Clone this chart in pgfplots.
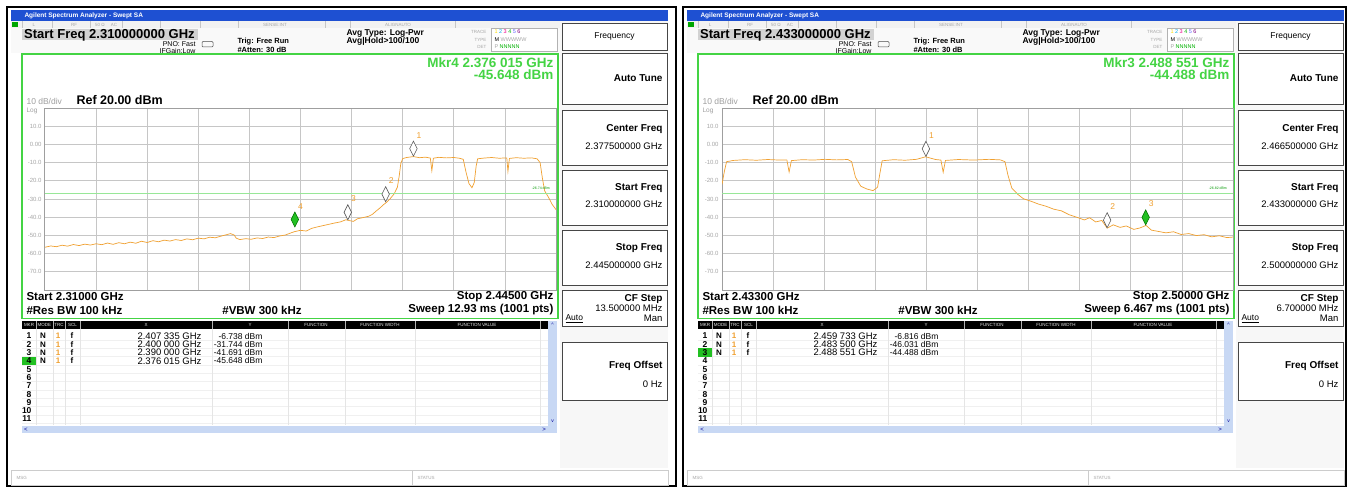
\documentclass[border=0pt]{standalone}
\usepackage{fontspec}
\setmainfont{Liberation Sans}
\usepackage{pgfplots}
\pgfplotsset{compat=1.18}
\definecolor{trace}{HTML}{F0A030}
\definecolor{scrgreen}{HTML}{44D444}
\definecolor{mkrgreen}{HTML}{22C022}
\definecolor{titleblue}{HTML}{1E50D2}
\definecolor{scroll}{HTML}{C8D8F4}
\newcommand\fs[1]{\fontsize{#1}{#1}\selectfont}

% one marker-table row: number, X, Y
\newcommand\mrow[3]{%
  \node[anchor=center,font=\fs{8}\bfseries] at (43,{336+(#1-1)*8.3}) {N};
  \node[anchor=center,font=\fs{8}\bfseries,text=trace] at (58,{336+(#1-1)*8.3}) {1};
  \node[anchor=center,font=\fs{8}\bfseries] at (72,{336+(#1-1)*8.3}) {f};
  \node[anchor=east,font=\fs{9.5}] at (205,{336+(#1-1)*8.3}) {#2 GHz};
  \node[anchor=east,font=\fs{8.5}] at (266,{336+(#1-1)*8.3}) {#3 dBm};
}

% analyzer screen, pixel units, y downwards
\newcommand\panel{%
  % title bar
  \fill[titleblue] (11,10) rectangle (668,21);
  \node[anchor=west,text=white,font=\fs{6.5}\bfseries] at (21,15.5) {Agilent Spectrum Analyzer - Swept SA};
  % status strip
  \fill[gray!10] (11,21) rectangle (668,28.5);
  \fill[green!65!black] (12,22) rectangle (18,27.5);
  \foreach \sx in {22,52,90,122,160,200,238,325,350,455,560} \draw[gray!45] (\sx,21.5) -- (\sx,28);
  \begin{scope}[every node/.style={font=\fs{4.5},text=gray!70,anchor=center}]
    \node at (34,24.8) {L};
    \node at (74,24.8) {RF};
    \node at (100,24.8) {50 Ω};
    \node at (114,24.8) {AC};
    \node at (275,24.8) {SENSE:INT};
    \node at (398,24.8) {ALIGNAUTO};
  \end{scope}
  % settings area
  \fill[gray!5] (11,28.5) rectangle (560,53);
  \fill[gray!35] (22,29.5) rectangle (198,40.5);
  \node[anchor=west,font=\fs{13}\bfseries,inner sep=1pt] at (23,35) {Start Freq \pStart{} GHz};
  \node[anchor=east,font=\fs{7}] at (199,44) {PNO: Fast};
  \draw[gray!60!black,rounded corners=1pt,line width=0.5pt] (202,41.5) rectangle (213,47);
  \node[anchor=east,font=\fs{7}] at (199,50.5) {IFGain:Low};
  \node[anchor=west,font=\fs{7.5}\bfseries] at (234,42) {Trig: Free Run};
  \node[anchor=west,font=\fs{7.5}\bfseries] at (234,49.5) {\#Atten: 30 dB};
  \node[anchor=west,font=\fs{8.5}\bfseries] at (343,33.5) {Avg Type: Log-Pwr};
  \node[anchor=west,font=\fs{8.5}\bfseries] at (343,41.5) {Avg|Hold>100/100};
  \node[anchor=east,font=\fs{4.5},text=gray!70] at (490,31.5) {TRACE};
  \node[anchor=east,font=\fs{4.5},text=gray!70] at (490,39.5) {TYPE};
  \node[anchor=east,font=\fs{4.5},text=gray!70] at (490,47) {DET};
  \draw[gray!60,fill=white] (491,28.5) rectangle (557,51);
  \node[anchor=west,font=\fs{5.5}] at (491,32) {\textcolor{yellow!80!orange}{1}~\textcolor{cyan}{2}~\textcolor{magenta}{3}~\textcolor{green!70!black}{4}~\textcolor{blue!60}{5}~\textcolor{violet}{6}};
  \node[anchor=west,font=\fs{5.5}] at (491,39.5) {M \textcolor{gray!70}{WWWWW}};
  \node[anchor=west,font=\fs{5.5}] at (491,47) {\textcolor{gray!70}{P} \textcolor{green!70!black}{NNNNN}};
  % softkeys
  \fill[gray!6] (560,21) rectangle (668,468);
  \begin{scope}[every path/.style={draw=gray!55!black,line width=0.8pt,fill=white}]
    \path (562,23) rectangle (667,50);
    \path (562,53) rectangle (667,104);
    \path (562,110) rectangle (667,165);
    \path (562,170) rectangle (667,225);
    \path (562,230) rectangle (667,285);
    \path (562,290) rectangle (667,326);
    \path (562,342) rectangle (667,400);
  \end{scope}
  \node[font=\fs{8.5}] at (614.5,36.5) {Frequency};
  \begin{scope}[every node/.style={anchor=east,font=\fs{10}\bfseries}]
    \node at (666,78) {Auto Tune};
    \node at (666,129) {Center Freq};
    \node at (666,188) {Start Freq};
    \node at (666,248) {Stop Freq};
    \node at (666,299) {CF Step};
    \node at (666,366) {Freq Offset};
  \end{scope}
  \begin{scope}[every node/.style={anchor=east,font=\fs{9.5}}]
    \node at (666,146) {\pCenter{} GHz};
    \node at (666,204) {\pStartK{} GHz};
    \node at (666,265) {\pStopK{} GHz};
    \node at (666,308.5) {\pStep{} MHz};
    \node at (666,318) {Man};
    \node at (666,384) {0 Hz};
  \end{scope}
  \node[anchor=west,font=\fs{8.5}] at (562,318.5) {\underline{Auto}};
  % display frame
  \draw[scrgreen,line width=1.8pt] (22,54) rectangle (558,318.5);
  \node[anchor=east,font=\fs{13.5}\bfseries,text=scrgreen] at (557,62.5) {\pMkr};
  \node[anchor=east,font=\fs{13.5}\bfseries,text=scrgreen] at (557,75) {\pMkrY};
  \node[anchor=west,font=\fs{8.5},text=gray!75] at (23,101) {10 dB/div};
  \node[anchor=west,font=\fs{12.5}\bfseries] at (73,100.5) {Ref 20.00 dBm};
  \node[anchor=west,font=\fs{6.5},text=gray!75] at (23,110.5) {Log};
  \node[anchor=west,font=\fs{11.5}\bfseries] at (23,297) {Start \pStartS{} GHz};
  \node[anchor=east,font=\fs{11.5}\bfseries] at (557,297) {Stop \pStopS{} GHz};
  \node[anchor=west,font=\fs{11.5}\bfseries] at (23,310) {\#Res BW 100 kHz};
  \node[anchor=center,font=\fs{11.5}\bfseries] at (262,310) {\#VBW 300 kHz};
  \node[anchor=east,font=\fs{11.5}\bfseries] at (557,310) {Sweep \pSweep};
  % marker table
  \fill[white] (22,321) rectangle (557,433);
  \fill[black] (22,321) rectangle (548,329);
  \foreach \sy in {340,348.3,...,425} \draw[gray!12] (22,\sy) -- (548,\sy);
  \foreach \sx in {36,53,65,80,212,288,345,415,540} {
    \draw[gray!20] (\sx,329) -- (\sx,425);
    \draw[gray!60] (\sx,321) -- (\sx,329);}
  \begin{scope}[every node/.style={font=\fs{4.5},text=white!85!gray,anchor=center}]
    \node at (29,325) {MKR};
    \node at (44.5,325) {MODE};
    \node at (59,325) {TRC};
    \node at (72.5,325) {SCL};
    \node at (146,325) {X};
    \node at (250,325) {Y};
    \node at (316,325) {FUNCTION};
    \node at (380,325) {FUNCTION WIDTH};
    \node at (477,325) {FUNCTION VALUE};
  \end{scope}
  \fill[mkrgreen] (22,{336+(\pActive-1)*8.3-4.2}) rectangle (36,{336+(\pActive-1)*8.3+4.2});
  \foreach \k in {1,...,11} \node[anchor=east,font=\fs{8.5}\bfseries] at (35,{336+(\k-1)*8.3}) {\k};
  \pRows
  \fill[scroll] (548,321) rectangle (557,433);
  \fill[scroll] (22,425.5) rectangle (548,433);
  \node[font=\fs{5},text=blue!60!black] at (552.5,325) {\^{}};
  \node[font=\fs{5},text=blue!60!black] at (552.5,421) {v};
  \node[font=\fs{6},text=blue!60!black] at (26,429.5) {<};
  \node[font=\fs{6},text=blue!60!black] at (544,429.5) {>};
  % message bar
  \draw[gray!40,fill=white] (11,470) rectangle (668,485);
  \draw[gray!40] (412,470) -- (412,485);
  \node[anchor=west,font=\fs{4.5},text=gray!70] at (13,478) {MSG};
  \node[anchor=west,font=\fs{4.5},text=gray!70] at (414,478) {STATUS};
}

\pgfplotsset{sa/.style={
  anchor=south west, scale only axis, width=511pt, height=182pt,
  ymin=-80, ymax=20, ytick={-70,-60,...,10},
  yticklabels={-70.0,-60.0,-50.0,-40.0,-30.0,-20.0,-10.0,0.00,10.0},
  xticklabels={},
  grid=major, major grid style={draw=gray!45,line width=0.7pt},
  axis line style={draw=gray!75,line width=1pt},
  major tick length=0pt,
  yticklabel style={font=\fs{6},text=gray!70},
  axis background/.style={fill=white},
}}

\begin{document}
\begin{tikzpicture}
\begin{scope}[x=1pt,y=-1pt]
\path[use as bounding box,fill=white] (0,0) rectangle (1353,487);
\draw[line width=1.8pt] (7,7) rectangle (676,486);
\draw[line width=1.8pt] (683,7) rectangle (1346,486);
\def\pStart{2.310000000}\def\pMkr{Mkr4 2.376 015 GHz}\def\pMkrY{-45.648 dBm}
\def\pCenter{2.377500000}\def\pStartK{2.310000000}\def\pStopK{2.445000000}
\def\pStep{13.500000}\def\pStartS{2.31000}\def\pStopS{2.44500}
\def\pSweep{12.93 ms (1001 pts)}\def\pActive{4}
\def\pRows{\mrow{1}{2.407 335}{-6.738}\mrow{2}{2.400 000}{-31.744}\mrow{3}{2.390 000}{-41.691}\mrow{4}{2.376 015}{-45.648}}
\panel
\end{scope}
\begin{scope}[x=1pt,y=-1pt,xshift=676pt]
\def\pStart{2.433000000}\def\pMkr{Mkr3 2.488 551 GHz}\def\pMkrY{-44.488 dBm}
\def\pCenter{2.466500000}\def\pStartK{2.433000000}\def\pStopK{2.500000000}
\def\pStep{6.700000}\def\pStartS{2.43300}\def\pStopS{2.50000}
\def\pSweep{6.467 ms (1001 pts)}\def\pActive{3}
\def\pRows{\mrow{1}{2.459 733}{-6.816}\mrow{2}{2.483 500}{-46.031}\mrow{3}{2.488 551}{-44.488}}
\panel
\end{scope}

% left trace
\begin{axis}[sa, at={(45pt,-290pt)}, xmin=2.31, xmax=2.445,
  xtick={2.3235,2.337,2.3505,2.364,2.3775,2.391,2.4045,2.418,2.4315}]
\addplot[trace, line width=0.7pt] table {
x y
2.3100 -56.5
2.3115 -55.8
2.3130 -56.2
2.3145 -55.4
2.3160 -55.9
2.3175 -55.0
2.3190 -55.6
2.3205 -54.8
2.3220 -55.3
2.3235 -54.6
2.3250 -55.1
2.3265 -54.2
2.3280 -54.9
2.3295 -54.0
2.3310 -54.6
2.3325 -53.7
2.3340 -54.3
2.3355 -53.2
2.3370 -53.9
2.3385 -52.9
2.3400 -53.5
2.3415 -52.6
2.3430 -53.1
2.3445 -52.3
2.3460 -52.8
2.3475 -51.9
2.3490 -52.4
2.3505 -51.5
2.3520 -51.9
2.3535 -51.0
2.3550 -51.3
2.3565 -50.4
2.3580 -49.6
2.3590 -49.0
2.3600 -49.8
2.3605 -51.5
2.3615 -52.3
2.3630 -51.8
2.3645 -52.1
2.3660 -51.4
2.3675 -51.7
2.3690 -50.9
2.3705 -51.2
2.3720 -50.3
2.3735 -49.8
2.3750 -48.6
2.3760 -47.9
2.3775 -47.2
2.3790 -47.6
2.3805 -46.1
2.3820 -45.3
2.3835 -44.6
2.3850 -43.9
2.3865 -43.2
2.3880 -42.6
2.3895 -41.4
2.3905 -41.9
2.3915 -42.3
2.3925 -40.9
2.3940 -40.2
2.3955 -39.5
2.3965 -38.4
2.3975 -36.6
2.3985 -34.9
2.3995 -33.0
2.4003 -31.7
2.4012 -29.8
2.4022 -27.3
2.4031 -23.5
2.4036 -17.0
2.4040 -10.5
2.4045 -7.8
2.4055 -7.2
2.4073 -6.7
2.4090 -7.3
2.4105 -7.0
2.4118 -7.5
2.4122 -14.5
2.4126 -7.6
2.4140 -7.1
2.4160 -7.4
2.4180 -7.2
2.4195 -7.6
2.4205 -8.2
2.4212 -15.0
2.4220 -21.5
2.4228 -23.8
2.4234 -21.0
2.4239 -12.0
2.4243 -7.9
2.4260 -7.5
2.4280 -7.2
2.4300 -7.6
2.4320 -7.4
2.4323 -14.8
2.4327 -7.7
2.4345 -7.3
2.4365 -7.6
2.4385 -7.4
2.4400 -7.9
2.4408 -10.0
2.4414 -18.5
2.4420 -25.5
2.4430 -29.0
2.4440 -33.0
2.4450 -35.8
};
\addplot[scrgreen!55, line width=0.6pt] coordinates {(2.31,-26.74) (2.445,-26.74)};
\node[anchor=south east,font=\fs{3.5},text=green!60!black] at (rel axis cs:0.995,0.533) {-26.74 dBm};
\addplot[only marks, mark=diamond*, mark size=5pt,
  mark options={draw=gray!70!black, fill=white, line width=0.6pt, yshift=8pt, yscale=1.5},
  nodes near coords, point meta=explicit symbolic,
  nodes near coords style={anchor=south west, text=trace, font=\fs{8.5}, inner sep=0pt, xshift=3pt, yshift=10pt}]
  table[meta=m] {
x y m
2.407335 -6.738 1
2.400000 -31.744 2
2.390000 -41.691 3
};
\addplot[only marks, mark=diamond*, mark size=5pt,
  mark options={draw=green!45!black, fill=mkrgreen, line width=0.6pt, yshift=8pt, yscale=1.5},
  nodes near coords, point meta=explicit symbolic,
  nodes near coords style={anchor=south west, text=trace, font=\fs{8.5}, inner sep=0pt, xshift=3pt, yshift=10pt}]
  table[meta=m] {
x y m
2.376015 -45.648 4
};
\end{axis}

% right trace
\begin{axis}[sa, at={(722pt,-290pt)}, xmin=2.433, xmax=2.5,
  xtick={2.4397,2.4464,2.4531,2.4598,2.4665,2.4732,2.4799,2.4866,2.4933}]
\addplot[trace, line width=0.7pt] table {
x y
2.4330 -22.0
2.4333 -15.0
2.4336 -9.5
2.4345 -8.8
2.4360 -8.4
2.4375 -8.7
2.4390 -8.3
2.4405 -8.6
2.4415 -8.5
2.4418 -15.2
2.4421 -8.9
2.4435 -8.4
2.4450 -8.6
2.4465 -8.2
2.4480 -8.5
2.4495 -8.3
2.4500 -9.5
2.4505 -18.0
2.4512 -23.0
2.4520 -24.5
2.4528 -25.4
2.4534 -23.5
2.4537 -16.0
2.4540 -9.0
2.4555 -8.4
2.4570 -8.7
2.4585 -8.2
2.4597 -6.8
2.4610 -8.3
2.4617 -8.6
2.4620 -15.3
2.4623 -8.8
2.4640 -8.3
2.4660 -8.6
2.4680 -8.2
2.4695 -8.5
2.4701 -9.5
2.4705 -17.0
2.4710 -24.0
2.4718 -27.5
2.4725 -29.8
2.4735 -31.2
2.4745 -32.8
2.4755 -34.0
2.4765 -35.6
2.4775 -36.5
2.4785 -38.6
2.4795 -40.0
2.4805 -41.5
2.4812 -40.3
2.4820 -42.6
2.4828 -41.8
2.4835 -46.0
2.4843 -44.2
2.4852 -45.6
2.4860 -44.8
2.4870 -46.7
2.4878 -45.9
2.4886 -44.5
2.4893 -47.1
2.4902 -47.8
2.4912 -48.6
2.4922 -48.0
2.4932 -49.5
2.4942 -49.0
2.4952 -50.1
2.4962 -49.6
2.4972 -50.8
2.4982 -50.2
2.4992 -51.2
2.5000 -50.9
};
\addplot[scrgreen!55, line width=0.6pt] coordinates {(2.433,-26.82) (2.5,-26.82)};
\node[anchor=south east,font=\fs{3.5},text=green!60!black] at (rel axis cs:0.995,0.533) {-26.82 dBm};
\addplot[only marks, mark=diamond*, mark size=5pt,
  mark options={draw=gray!70!black, fill=white, line width=0.6pt, yshift=8pt, yscale=1.5},
  nodes near coords, point meta=explicit symbolic,
  nodes near coords style={anchor=south west, text=trace, font=\fs{8.5}, inner sep=0pt, xshift=3pt, yshift=10pt}]
  table[meta=m] {
x y m
2.459733 -6.816 1
2.483500 -46.031 2
};
\addplot[only marks, mark=diamond*, mark size=5pt,
  mark options={draw=green!45!black, fill=mkrgreen, line width=0.6pt, yshift=8pt, yscale=1.5},
  nodes near coords, point meta=explicit symbolic,
  nodes near coords style={anchor=south west, text=trace, font=\fs{8.5}, inner sep=0pt, xshift=3pt, yshift=10pt}]
  table[meta=m] {
x y m
2.488551 -44.488 3
};
\end{axis}
\end{tikzpicture}
\end{document}
